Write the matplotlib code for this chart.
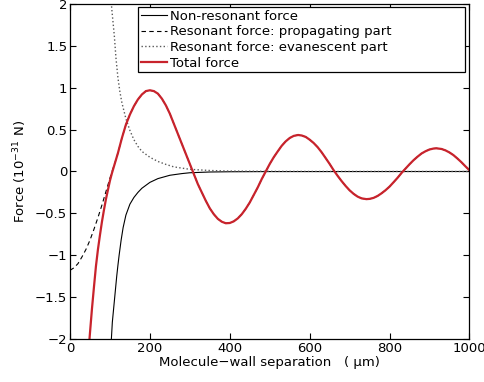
import numpy as np
import matplotlib
matplotlib.use("Agg")
import matplotlib.pyplot as plt

# values (x in um, force in 1e-31 N)
total_x = [48, 50, 55, 60, 65, 70, 75, 80, 85, 90, 95, 100, 105, 110, 115, 120,
           130, 140, 150, 160, 170, 180, 190, 200, 210, 220, 230, 240, 250, 260,
           270, 280, 290, 300, 310, 320, 330, 340, 350, 360, 370, 380, 390, 400,
           410, 420, 430, 440, 450, 460, 470, 480, 490, 500, 510, 520, 530, 540,
           550, 560, 571, 580, 590, 600, 610, 620, 630, 640, 650, 660, 670, 680,
           690, 700, 710, 720, 730, 742, 750, 760, 770, 780, 790, 800, 810, 820,
           830, 840, 850, 860, 870, 880, 890, 900, 910, 917, 930, 940, 950, 960,
           970, 980, 990, 1000]
total_y = [-2.05, -1.93, -1.64, -1.38, -1.13, -0.93, -0.76, -0.60, -0.46, -0.33,
           -0.22, -0.11, -0.02, 0.06, 0.14, 0.22, 0.40, 0.56, 0.68, 0.78, 0.86,
           0.92, 0.96, 0.97, 0.96, 0.93, 0.87, 0.79, 0.69, 0.57, 0.45, 0.33, 0.21,
           0.09, -0.03, -0.15, -0.25, -0.35, -0.44, -0.51, -0.565, -0.60, -0.618,
           -0.615, -0.595, -0.56, -0.51, -0.445, -0.37, -0.28, -0.19, -0.09, 0.0,
           0.09, 0.17, 0.24, 0.307, 0.36, 0.40, 0.425, 0.436, 0.43, 0.413, 0.38,
           0.34, 0.29, 0.229, 0.16, 0.09, 0.015, -0.052, -0.115, -0.173, -0.225,
           -0.267, -0.30, -0.321, -0.33, -0.327, -0.315, -0.292, -0.26, -0.223,
           -0.18, -0.128, -0.075, -0.017, 0.035, 0.087, 0.135, 0.177, 0.215,
           0.242, 0.263, 0.274, 0.277, 0.269, 0.252, 0.227, 0.195, 0.154, 0.11,
           0.061, 0.015]

nonres_x = [103, 106, 110, 113, 117, 120, 123, 128, 133, 140, 150, 160, 170, 180,
            200, 220, 250, 280, 300, 350, 400, 500, 1000]
nonres_y = [-2.05, -1.8, -1.6, -1.45, -1.25, -1.12, -1.0, -0.82, -0.67, -0.52,
            -0.39, -0.31, -0.25, -0.20, -0.13, -0.085, -0.045, -0.025, -0.015,
            -0.006, -0.003, -0.001, 0.0]

evan_x = [102, 105, 108, 111, 115, 120, 125, 130, 140, 150, 160, 170, 180, 200,
          220, 240, 260, 300, 350, 400, 500, 600, 1000]
evan_y = [2.1, 1.92, 1.77, 1.62, 1.36, 1.12, 0.95, 0.82, 0.63, 0.49, 0.38, 0.30,
          0.24, 0.17, 0.12, 0.085, 0.055, 0.026, 0.012, 0.005, 0.002, 0.001, 0.0]

# propagating part: visible alone below ~110 um, under the total curve after
prop_x0 = [0, 10, 20, 30, 40, 50, 60, 70, 80, 90, 100, 110]
prop_y0 = [-1.18, -1.15, -1.10, -1.02, -0.93, -0.82, -0.69, -0.55, -0.40, -0.24,
           -0.08, 0.07]

labels = ["Non-resonant force", "Resonant force: propagating part",
          "Resonant force: evanescent part", "Total force"]

plt.rcParams['font.family'] = ['DejaVu Sans']
plt.rcParams['font.size'] = 9.5
plt.rcParams['mathtext.default'] = 'regular'

prop_x = prop_x0 + [x for x in total_x if x > 110]
prop_y = prop_y0 + [y for x, y in zip(total_x, total_y) if x > 110]

fig = plt.figure(figsize=(4.85, 3.82), dpi=100)
ax = fig.add_axes([0.1443, 0.1126, 0.8237, 0.8769])

ax.plot(nonres_x, nonres_y, '-', color='black', lw=0.8, label=labels[0])
ax.plot(prop_x, prop_y, '--', color='black', lw=0.8, dashes=(4, 3), label=labels[1])
ax.plot(evan_x, evan_y, ':', color='0.35', lw=1.0, label=labels[2])
ax.plot(total_x, total_y, '-', color='#c8232c', lw=1.6, label=labels[3])

ax.set_xlim(0, 1000)
ax.set_ylim(-2, 2)
ax.set_xticks([0, 200, 400, 600, 800, 1000])
ax.set_yticks([-2, -1.5, -1, -0.5, 0, 0.5, 1, 1.5, 2])
ax.set_yticklabels(["\u22122", "\u22121.5", "\u22121", "\u22120.5", "0", "0.5", "1", "1.5", "2"])
ax.tick_params(direction='in', top=True, right=True, length=4, width=0.8, pad=2)
for s in ax.spines.values():
    s.set_linewidth(0.9)

ax.set_xlabel("Molecule\u2212wall separation   ( \u00b5m)", labelpad=1)
ax.set_ylabel("Force (10$^{\u221231}$ N)", labelpad=4)

# wide box with empty room on the right, as in the original
leg = ax.legend(loc='upper left', bbox_to_anchor=(0.170, 0.80, 0.819, 0.191),
                mode='expand', fancybox=False, framealpha=1, edgecolor='black',
                handlelength=2.0, handletextpad=0.2, labelspacing=0.2,
                borderpad=0.2, borderaxespad=0)
leg.get_frame().set_linewidth(0.9)

fig.savefig("out.png", dpi=100)
